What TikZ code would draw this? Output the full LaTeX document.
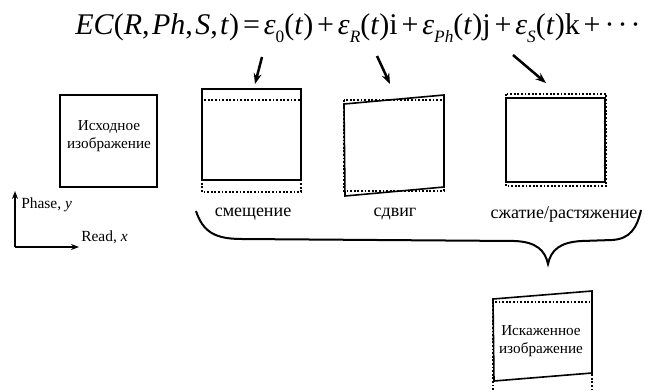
\documentclass[tikz,border=0pt]{standalone}
\usepackage{fontspec}
\setmainfont{Liberation Serif}
\usetikzlibrary{arrows.meta}
\newcommand{\myeps}{\textit{ε}}
\newcommand{\opsp}[1]{\hspace{0.13em}#1\hspace{0.13em}}
\newcommand{\cm}{,\hspace{0.08em}}
\newcommand{\mysub}[1]{\raisebox{-0.28em}{\fontsize{13}{15}\selectfont #1}}
\begin{document}
\begin{tikzpicture}[x=0.75pt,y=-0.75pt,
  solidline/.style={line width=1.2pt},
  dotline/.style={line width=1.2pt,dash pattern=on 1.3pt off 1.4pt},
  eqarrow/.style={line width=1.9pt,-{Stealth[length=8pt,width=6pt]}},
  axisarrow/.style={line width=1.1pt,-{Stealth[length=6pt,width=4.5pt]}},
  brace/.style={line width=1.5pt},
  boxtext/.style={font=\fontsize{11.4}{13.6}\selectfont,align=center,inner sep=0pt},
  labeltext/.style={font=\fontsize{13.5}{16}\selectfont,inner sep=0pt},
  axistext/.style={font=\fontsize{11.6}{14}\selectfont,inner sep=0pt,anchor=west}]
\useasboundingbox (0,0) rectangle (645,390);

% equation
\node[anchor=base west,inner sep=0pt,font=\fontsize{22.5}{27}\selectfont] (eq) at (75,34)
{\textit{EC}(\textit{R}\cm\textit{Ph}\cm\textit{S}\cm\textit{t})\opsp{=}\myeps\mysub{0}(\textit{t})\opsp{+}\myeps\mysub{\textit{R}}(\textit{t})i\opsp{+}\myeps\mysub{\textit{Ph}}(\textit{t})j\opsp{+}\myeps\mysub{\textit{S}}(\textit{t})k\opsp{+}·\kern0.1em·\kern0.1em·};

% original image
\node[draw,line width=1.8pt,minimum width=72.75pt,minimum height=69pt,inner sep=0pt] (orig) at (108.5,141) {};
\node[boxtext] (origtext) at (109,136) {Исходное\\изображение};

% axes
\coordinate (O) at (15,247);
\coordinate (Yend) at (15,191);
\coordinate (Xend) at (79,247);
\draw[axisarrow] (O) -- (Yend);
\draw[axisarrow] (O) -- (Xend);
\node[axistext] (phase) at (21,205) {Phase, \textit{y}};
\node[axistext] (read) at (81,237) {Read, \textit{x}};

% shift box
\draw[dotline] (202,100) rectangle (301,192);
\draw[solidline] (202,89) rectangle (301,180);
\coordinate (shiftbox) at (255,84);
\coordinate (a1) at (262,57);
\draw[eqarrow] (a1) -- (shiftbox);
\node[labeltext] (lshift) at (253,214) {смещение};

% shear box
\draw[dotline] (344,100) rectangle (444,191);
\draw[solidline] (344,104) -- (444,95) -- (444,187) -- (345,196) -- cycle;
\coordinate (shearbox) at (390,84);
\coordinate (a2) at (377,56);
\draw[eqarrow] (a2) -- (shearbox);
\node[labeltext] (lshear) at (395,214) {сдвиг};

% compression box
\draw[dotline] (506,94) rectangle (606,186);
\draw[solidline] (506,98) rectangle (605,182);
\coordinate (compbox) at (546,83);
\coordinate (a3) at (513,55);
\draw[eqarrow] (a3) -- (compbox);
\node[labeltext] (lcomp) at (564,214) {сжатие/растяжение};

% brace
\draw[brace] (196,211) .. controls (203,232) and (215,239) .. (242,239)
  -- (515,241) .. controls (536,242) and (545,250) .. (548,264)
  .. controls (551,250) and (560,242) .. (582,241)
  -- (612,240) .. controls (630,239) and (637,228) .. (641,210);

% distorted image
\draw[dotline] (493,390) -- (493,302) -- (592,302) -- (592,390);
\draw[solidline] (493,299) -- (592,291) -- (592,373) -- (494,381) -- cycle;
\node[boxtext] (disttext) at (541,341) {Искаженное\\изображение};
\end{tikzpicture}
\end{document}
